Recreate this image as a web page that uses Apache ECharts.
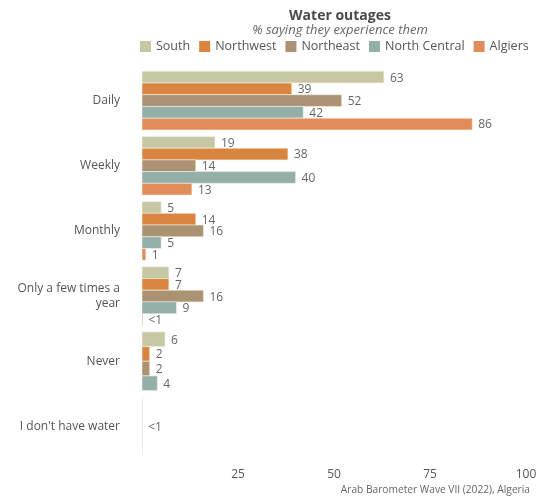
<!DOCTYPE html>
<html>
<head>
<meta charset="utf-8">
<script src="https://cdn.jsdelivr.net/npm/echarts@6/dist/echarts.min.js"></script>
<style>html,body{margin:0;padding:0;background:#fff}#c{width:545px;height:504px}</style>
</head>
<body>
<div id="c"></div>
<script>
const categories = ['Daily', 'Weekly', 'Monthly', 'Only a few times a year', 'Never', "I don't have water"];
const seriesNames = ['South', 'Northwest', 'Northeast', 'North Central', 'Algiers'];
const south = [63, 19, 5, 7, 6, null];
const northwest = [39, 38, 14, 7, 2, null];
const northeast = [52, 14, 16, 16, 2, 0.05];
const northCentral = [42, 40, 5, 9, 4, null];
const algiers = [86, 13, 1, 0.1, null, null];
const xTicks = [0, 25, 50, 75, 100];
const colors = ['#c8c7a3', '#d98540', '#ab9272', '#94aea8', '#e08d59'];

const allSeries = [south, northwest, northeast, northCentral, algiers];
const FONT = 'Open Sans';

// slot of each present series within each category
function buildData(si) {
  return categories.map((c, ci) => {
    const present = allSeries.map((s, k) => s[ci] != null ? k : -1).filter(k => k >= 0);
    const v = allSeries[si][ci];
    if (v == null) return [null, ci, 0, 1];
    return [v, ci, present.indexOf(si), present.length];
  });
}

function renderItem(params, api) {
  const v = api.value(0);
  if (v == null || isNaN(v)) return;
  const ci = api.value(1), slot = api.value(2), n = api.value(3);
  const p0 = api.coord([0, ci]);
  const p1 = api.coord([v, ci]);
  const band = api.size([0, 1])[1];
  const groupH = band * 0.9;
  const h = groupH / n;
  const y = p0[1] - groupH / 2 + slot * h;
  const label = v < 1 ? '<1' : String(v);
  const tiny = v < 1;
  return {
    type: 'group',
    children: [
      { type: 'rect', shape: { x: p0[0], y: y, width: p1[0] - p0[0], height: h },
        style: { fill: api.visual('color'), stroke: tiny ? null : '#f4f1ea', lineWidth: tiny ? 0 : 0.6 } },
      { type: 'text', x: p1[0] + 6, y: y + h / 2 + 1,
        style: { text: label, fill: '#666', font: '12px "' + FONT + '"', textAlign: 'left', textVerticalAlign: 'middle' } }
    ]
  };
}

const chart = echarts.init(document.getElementById('c'));
chart.setOption({
  animation: false,
  textStyle: { fontFamily: FONT },
  title: [
    { text: 'Water outages', subtext: '% saying they experience them', left: 335, top: 4, textAlign: 'center', itemGap: 1,
      textStyle: { fontFamily: FONT, fontSize: 14, fontWeight: 'bold', color: '#4a4a4a' },
      subtextStyle: { fontFamily: FONT, fontSize: 13, fontStyle: 'italic', color: '#666' } },
    { text: 'Arab Barometer Wave VII (2022), Algeria', right: 10, bottom: 4,
      textStyle: { fontFamily: FONT, fontSize: 10.2, fontWeight: 'normal', color: '#666' } }
  ],
  legend: {
    top: 35, left: 135, width: 410, itemWidth: 11, itemHeight: 11, itemGap: 9, icon: 'rect',
    textStyle: { fontFamily: FONT, fontSize: 12.5, color: '#555' },
    data: seriesNames
  },
  grid: { left: 142, right: 19, top: 68, bottom: 45 },
  xAxis: {
    type: 'value', min: 0, max: 100, interval: 25,
    axisLine: { show: false }, axisTick: { show: false }, splitLine: { show: false },
    axisLabel: { color: '#555', fontSize: 12, fontFamily: FONT, margin: 10,
      formatter: v => (v === xTicks[0] ? '' : String(v)) }
  },
  yAxis: {
    type: 'category', data: categories, inverse: true,
    axisLine: { show: false }, axisTick: { show: false },
    axisLabel: { color: '#555', fontSize: 12, fontFamily: FONT, margin: 22, align: 'right', lineHeight: 15,
      formatter: v => v.replace('times a year', 'times a\nyear') }
  },
  series: seriesNames.map((name, si) => ({
    type: 'custom', name: name, renderItem: renderItem,
    itemStyle: { color: colors[si] },
    encode: { x: 0, y: 1 },
    data: buildData(si)
  }))
});
</script>
</body>
</html>
